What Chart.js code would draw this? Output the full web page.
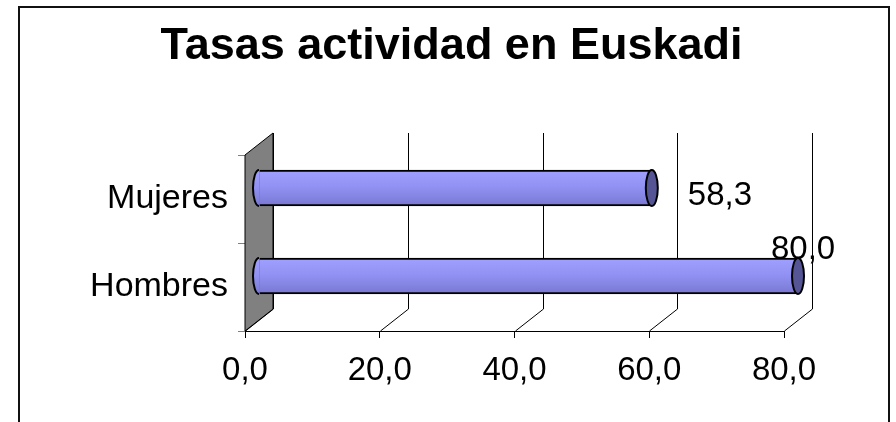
<!DOCTYPE html>
<html>
<head>
<meta charset="utf-8">
<script src="https://cdn.jsdelivr.net/npm/chart.js@4/dist/chart.umd.min.js"></script>
<style>
  body { margin: 0; background: #fff; }
  #wrap { width: 896px; height: 422px; }
</style>
</head>
<body>
<div id="wrap"><canvas id="chart"></canvas></div>
<script>
'use strict';

// Data
let categories = ['Mujeres', 'Hombres'];
let tasas = [58.3, 80.0];
let xTicks = [0, 20, 40, 60, 80];

// 3D look
const depthX = 28;
const depthY = 22;
const barHalf = 18;
const labelOffsets = [[50, 6], [-13, -28]];

function fmt(v) {
  return v.toFixed(1).replace('.', ',');
}

function barGradient(context) {
  let chart = context.chart;
  let yScale = chart.scales.y;
  if (!yScale || !chart.chartArea) {
    return '#9090f0';
  }
  let yc = yScale.getPixelForValue(context.dataIndex);
  let g = chart.ctx.createLinearGradient(0, yc - barHalf, 0, yc + barHalf);
  g.addColorStop(0, '#a0a0ff');
  g.addColorStop(0.45, '#9292f4');
  g.addColorStop(1, '#7878d2');
  return g;
}

const wallPlugin = {
  id: 'wall3d',
  beforeDatasetsDraw(chart) {
    let ctx = chart.ctx;
    let area = chart.chartArea;
    let xScale = chart.scales.x;
    ctx.save();
    // left wall
    ctx.beginPath();
    ctx.moveTo(area.left, area.top);
    ctx.lineTo(area.left + depthX, area.top - depthY);
    ctx.lineTo(area.left + depthX, area.bottom - depthY);
    ctx.lineTo(area.left, area.bottom);
    ctx.closePath();
    ctx.fillStyle = '#808080';
    ctx.fill();
    ctx.strokeStyle = '#000';
    ctx.lineWidth = 1;
    ctx.stroke();
    // back wall grid + floor lines
    ctx.beginPath();
    for (let i = 0; i < xTicks.length; i++) {
      let px = Math.round(xScale.getPixelForValue(xTicks[i])) + 0.5;
      ctx.moveTo(px + depthX, area.top - depthY);
      ctx.lineTo(px + depthX, area.bottom - depthY);
      ctx.moveTo(px, area.bottom);
      ctx.lineTo(px + depthX, area.bottom - depthY);
    }
    ctx.stroke();
    ctx.restore();
  },
  beforeDatasetDraw(chart) {
    chart.ctx.save();
    chart.ctx.translate(depthX / 2, -depthY / 2);
  },
  afterDatasetDraw(chart, args) {
    let ctx = chart.ctx;
    let meta = args.meta;
    let base = chart.scales.x.getPixelForValue(0);
    meta.data.forEach(function (bar, i) {
      let g = barGradient({ chart: chart, dataIndex: i });
      // rounded start of the tube
      ctx.beginPath();
      ctx.ellipse(base, bar.y, 6, barHalf, 0, Math.PI / 2, Math.PI * 1.5);
      ctx.fillStyle = g;
      ctx.fill();
      ctx.lineWidth = 2;
      ctx.strokeStyle = '#000';
      ctx.stroke();
      // end cap
      ctx.beginPath();
      ctx.ellipse(bar.x, bar.y, 6, barHalf, 0, 0, Math.PI * 2);
      ctx.fillStyle = '#555596';
      ctx.fill();
      ctx.stroke();
    });
    ctx.restore();
  },
  afterDatasetsDraw(chart) {
    let ctx = chart.ctx;
    let meta = chart.getDatasetMeta(0);
    ctx.save();
    ctx.font = '33px "Liberation Sans", Arial, sans-serif';
    ctx.fillStyle = '#000';
    ctx.textAlign = 'left';
    ctx.textBaseline = 'alphabetic';
    meta.data.forEach(function (bar, i) {
      let off = labelOffsets[i];
      ctx.fillText(fmt(tasas[i]), bar.x + off[0], bar.y + off[1]);
    });
    ctx.restore();
  },
  afterDraw(chart) {
    let ctx = chart.ctx;
    ctx.save();
    ctx.strokeStyle = '#111';
    ctx.lineWidth = 2;
    ctx.strokeRect(19, 7, 870, 500);
    ctx.restore();
  }
};

const ctx = document.getElementById('chart').getContext('2d');

let chartObject = {
  type: 'bar',
  data: {
    labels: categories,
    datasets: [{
      label: 'Tasas actividad',
      data: tasas,
      backgroundColor: barGradient,
      borderColor: '#000',
      borderWidth: 2,
      borderSkipped: 'start',
      barThickness: barHalf * 2,
      clip: false
    }]
  },
  options: {
    indexAxis: 'y',
    responsive: true,
    maintainAspectRatio: false,
    animation: false,
    layout: {
      padding: { left: 7, right: 0, top: 0, bottom: 0 }
    },
    plugins: {
      legend: { display: false },
      tooltip: { enabled: false },
      title: {
        display: true,
        text: 'Tasas actividad en Euskadi',
        color: '#000',
        font: { family: '"Liberation Sans", Arial, sans-serif', size: 45, weight: 'bold', lineHeight: 1.2 },
        padding: { top: 20, bottom: 81 }
      }
    },
    scales: {
      x: {
        min: 0,
        max: 80,
        afterBuildTicks: function (scale) {
          scale.ticks = xTicks.map(function (v) { return { value: v }; });
        },
        afterFit: function (scale) {
          scale.height = 91;
        },
        grid: {
          drawOnChartArea: false,
          drawTicks: true,
          tickLength: 7,
          color: '#000'
        },
        border: { display: true, color: '#000', width: 1 },
        ticks: {
          color: '#000',
          padding: 13,
          maxRotation: 0,
          font: { family: '"Liberation Sans", Arial, sans-serif', size: 33 },
          callback: function (v) { return fmt(v); }
        }
      },
      y: {
        afterFit: function (scale) {
          scale.width = 238;
        },
        grid: {
          drawOnChartArea: false,
          drawTicks: true,
          tickLength: 7,
          offset: true,
          color: '#808080'
        },
        border: { display: false },
        ticks: {
          color: '#000',
          padding: 10,
          font: { family: '"Liberation Sans", Arial, sans-serif', size: 34 }
        }
      },
      yRight: {
        type: 'category',
        position: 'right',
        afterFit: function (scale) {
          scale.width = 112;
        },
        grid: { display: false },
        border: { display: false },
        ticks: { display: false }
      }
    }
  },
  plugins: [wallPlugin]
};

// eslint-disable-next-line
const myChart = new Chart(ctx, chartObject);
</script>
</body>
</html>
